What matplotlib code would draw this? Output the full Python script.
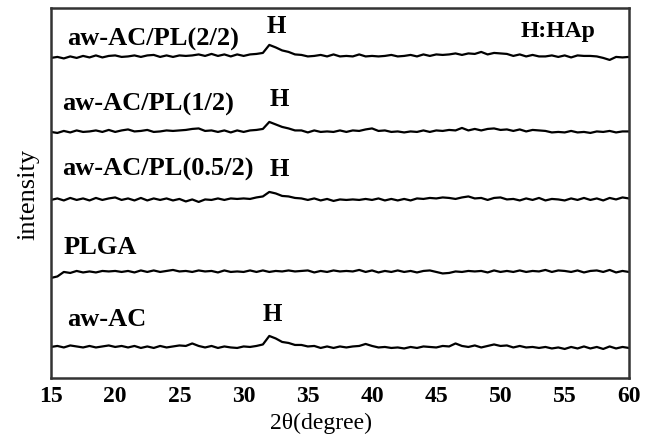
# Importing needed libraries
import numpy as np
import matplotlib.pyplot as plt

# 2 theta values (0.5 degree steps)
twoTheta = np.arange(15, 60.01, 0.5)

# Intensity wiggles (pixels above its own baseline)
awAC = [0, 1, -0.5, 1.5, 0.5, -0.5, 1, -0.5, 0.5, 1.5,
        0, 1, -0.5, 1, -1, 0.5, -1, 1, -0.5, 0.5,
        1.5, 1, 3.5, 1, -0.5, 1, -1, 0.5, -0.5, -1,
        0.5, 0, 1, 2.5, 11, 8.5, 5, 4, 2, 2,
        0.5, 1, -1, 0.5, -1, 0.5, -0.5, 0.5, 1, 3,
        1, -0.5, 0, -1, -0.5, -1.5, 0, -1, 0.5, 0,
        -0.5, 1, 0.5, 3.5, 1, 0, 1.5, -0.5, 1, 2.5,
        1, 1.5, -0.5, 1, -0.5, 0, -1, 0, -1.5, -0.5,
        -2, 0, -1.5, 0.5, -1.5, 0, -2, 0.5, -1.5, 0,
        -1]
plga = [-6, -4.5, 0, -1, 1, -0.5, 0.5, -0.5, 1, 0.5,
        1, 0, 1, -0.5, 1.5, 0, 1.5, 0, 1, 2,
        0.5, 1, 0, 1.5, 0.5, 1, -0.5, 1.5, 0, 0.5,
        0, 1.5, 0, 1.5, 0, 1, 0.5, 1.5, 0.5, 1,
        1.5, -0.5, 1, 0, 1.5, 0.5, 1, 0.5, 2, 0,
        1.5, -0.5, 1, 0, 1.5, 0, 1, -0.5, 1, 1.5,
        0, -1.5, -1, 0.5, 0, 1, 0.5, 1, -0.5, 1.5,
        0, 1, 0, 1.5, 0, 1, 0.5, 2, 0, 1.5,
        1, 0, 1.5, -0.5, 1, 1.5, 0, 2, -0.5, 1,
        0]
pl05 = [0, 1.5, -0.5, 2, 0, 1.5, -0.5, 2, 0, 1.5,
        2.5, 0, 1.5, -0.5, 2, -0.5, 1.5, 0, 1.5, -0.5,
        1, -1.5, 0.5, -2, 0.5, 0, 1.5, 0, 1.5, 1,
        1.5, 1, 2.5, 3.5, 8, 6.5, 4, 3.5, 2, 1.5,
        0, 1.5, -0.5, 1, -1, 0.5, 0, 0.5, 0, 1,
        0, 1.5, -0.5, 1, -0.5, 1, -0.5, 1.5, 1, 2,
        1.5, 2.5, 2, 1, 2.5, 3.5, 1.5, 2, 0, 2,
        2.5, 0.5, 1, -0.5, 1.5, 0, 2, -0.5, 1, 0.5,
        -0.5, 1.5, 0, 2, 0, 1.5, -0.5, 2, 0.5, 2.5,
        1.5]
pl1 = [0, -1, 1, -0.5, 1.5, 0, 0.5, 1.5, 0, 2,
       0, 1.5, 2.5, 0.5, 1, 2, 0, 0.5, 1.5, 1,
       1.5, 2, 3, 3.5, 1, 1.5, 0, 1.5, -0.5, 1.5,
       0, 1.5, 2, 3, 10, 7.5, 5, 3.5, 1.5, 1.5,
       -0.5, 1.5, 0, 0.5, 0, 1.5, 0, 1.5, 1, 2.5,
       3.5, 1, 1.5, 0, 0.5, -0.5, 0.5, 0, 1.5, 0,
       1.5, 1, 2, 1.5, 4, 1.5, 3, 1.5, 3, 3.5,
       2, 2.5, 1, 2.5, 0.5, 2, 1.5, 1, -0.5, 0,
       -0.5, 1, -0.5, 0, -1, 0.5, 0, 1, -0.5, 0.5,
       0.5]
pl2 = [-1, 0, -1.5, 0.5, -1, 1, -0.5, 1.5, -0.5, 1,
       1.5, 0, 0.5, 1.5, 0, 1.5, 2, 0, 1.5, 0,
       1.5, 1, 1.5, 2.5, 1, 3, 1, 2.5, 0.5, 2.5,
       1, 2.5, 3, 4, 12, 9.5, 6.5, 5, 2.5, 2,
       0.5, 1, 2, 0.5, 2.5, 0.5, 1, 0.5, 2.5, 0.5,
       1, 0.5, 1, 2, 0.5, 1, 2, 0.5, 2.5, 1,
       2.5, 2, 2.5, 3.5, 2, 3.5, 3, 5, 2.5, 4,
       3.5, 3, 1, 2.5, 0.5, 2, 0.5, 0.5, 1.5, 0,
       1.5, -0.5, 1.5, 1, 1, 0.5, -1, -3, 0, -0.5,
       0]

# Sample names, their stacked baselines and the traces in order from top to bottom
sampleNames = ["aw-AC/PL(2/2)", "aw-AC/PL(1/2)", "aw-AC/PL(0.5/2)", "PLGA", "aw-AC"]
baselines = [321, 246, 178, 106, 31]
traces = [pl2, pl1, pl05, plga, awAC]
# Where each name and HAp mark sit (degree, intensity)
nameX = [16.25, 15.85, 15.85, 15.95, 16.25]
nameY = [338, 273, 208, 130, 58]
hX = [32.55, 32.8, 32.8, None, 32.25]
hY = [351, 278, 208, None, 63]

plt.rcParams['font.family'] = ['Liberation Serif', 'DejaVu Serif']

# Creating the figure with the plotting area placed like the reference
fig = plt.figure(figsize=(6.56, 4.40), dpi=100)
ax = fig.add_axes([0.0777, 0.141, 0.881, 0.841])

# Plotting every trace shifted up to its baseline
for i in range(len(traces)):
    ax.plot(twoTheta, np.array(traces[i]) + baselines[i], color="black", linewidth=1.6)
    ax.text(nameX[i], nameY[i], sampleNames[i], fontsize=19, fontweight="bold", va="center", ha="left")
    if hX[i] is not None:
        ax.text(hX[i], hY[i], "H", fontsize=18, fontweight="bold", va="center", ha="center")

ax.text(54.5, 346, "H:HAp", fontsize=17, fontweight="bold", va="center", ha="center")

# Axis setup
ax.set_xlim(15, 60)
ax.set_ylim(0, 370)
ax.set_xticks([15, 20, 25, 30, 35, 40, 45, 50, 55, 60])
ax.set_yticks([])
ax.tick_params(axis="x", length=0, pad=6, labelsize=17)
for label in ax.get_xticklabels():
    label.set_fontweight("bold")
for spine in ax.spines.values():
    spine.set_linewidth(1.8)
    spine.set_color("#333333")
ax.set_xlabel("2θ(degree)", fontsize=17)
ax.xaxis.set_label_coords(0.467, -0.093)
ax.set_ylabel("intensity", fontsize=19)
ax.yaxis.set_label_coords(-0.02, 0.495)

plt.savefig("out.png", dpi=100)
